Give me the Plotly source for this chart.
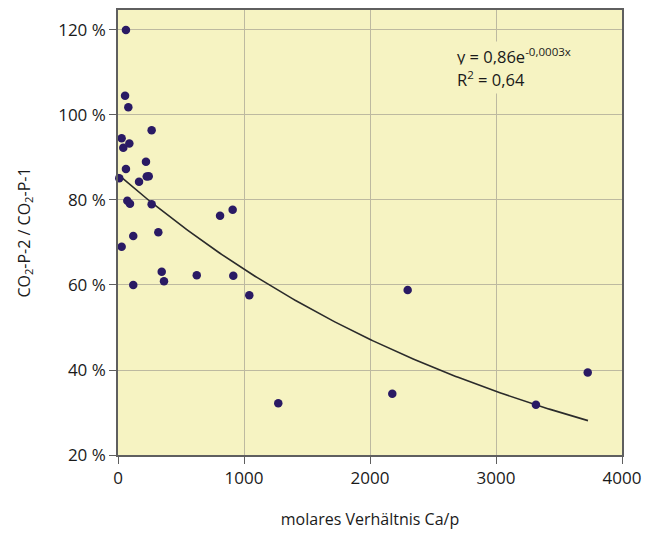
import numpy as np
import plotly.graph_objects as go

# molares Verhältnis Ca/p (x) and CO2-P-2 / CO2-P-1 in % (y)
ca_p = [63, 56, 82, 267, 29, 42, 90, 222, 63, 10, 167, 228, 244,
        74, 95, 267, 121, 320, 29, 347, 365, 625, 915, 121, 810, 910,
        1042, 2299, 1272, 2177, 3317, 3728]
ratio = [120.0, 104.5, 101.8, 96.4, 94.5, 92.3, 93.3, 89.0, 87.3, 85.1, 84.3, 85.5, 85.6,
         79.8, 79.1, 79.0, 71.5, 72.4, 69.0, 63.1, 60.9, 62.3, 62.2, 60.0, 76.3, 77.7,
         57.6, 58.8, 32.2, 34.4, 31.8, 39.4]

# exponential fit y = a * exp(b x)
fit_a = 0.86
fit_b = -0.0003
fit_x_end = 3730

x_ticks = [0, 1000, 2000, 3000, 4000]
y_ticks = [20, 40, 60, 80, 100, 120]
y_tick_text = ["20 %", "40 %", "60 %", "80 %", "100 %", "120 %"]

font_family = "Open Sans, Noto Sans, DejaVu Sans, sans-serif"
bg = "#f6f3c2"
grid = "#bdb9a0"
frame = "#5f5f5f"

fx = np.linspace(0, fit_x_end, 200)
fy = fit_a * np.exp(fit_b * fx) * 100

fig = go.Figure()
fig.add_trace(go.Scatter(x=fx, y=fy, mode="lines",
                         line=dict(color="#2b2b2b", width=1.6),
                         hoverinfo="skip", showlegend=False))
fig.add_trace(go.Scatter(x=ca_p, y=ratio, mode="markers",
                         marker=dict(color="#2a1a64", size=8.5, line=dict(width=0)),
                         cliponaxis=False, showlegend=False))

# page body has an 8px default margin, so the figure is sized 8px smaller
fig.update_layout(
    width=644, height=528,
    margin=dict(l=110, r=30, t=2, b=81),
    paper_bgcolor="white", plot_bgcolor=bg,
    font=dict(family=font_family, size=16, color="#1a1a1a"),
    xaxis=dict(range=[0, 4000], tickvals=x_ticks, showgrid=True, gridcolor=grid,
               gridwidth=1.3, zeroline=False, showline=True, mirror=True,
               linecolor=frame, linewidth=1.6, ticks="outside", ticklen=7,
               tickcolor=frame, tickwidth=1.3, tickfont=dict(size=17), automargin=False,
               title=dict(text="molares Verhältnis Ca/p", font=dict(size=16), standoff=26)),
    yaxis=dict(range=[20, 124.7], tickvals=y_ticks, ticktext=y_tick_text,
               showgrid=True, gridcolor=grid, gridwidth=1.3, zeroline=False,
               showline=True, mirror=True, linecolor=frame, linewidth=1.6,
               ticks="outside", ticklen=7, tickcolor=frame, tickwidth=1.3,
               tickfont=dict(size=17), automargin=False,
               title=dict(text="CO<sub>2</sub>-P-2 / CO<sub>2</sub>-P-1",
                          font=dict(size=16), standoff=24)),
)

fig.add_annotation(xref="paper", yref="paper", x=0.666, y=0.930,
                   xanchor="left", yanchor="top", align="left", showarrow=False,
                   text="y = 0,86e<sup>-0,0003x</sup>",
                   font=dict(size=16.5, color="#1a1a1a"), bgcolor=bg, borderpad=2)
fig.add_annotation(xref="paper", yref="paper", x=0.666, y=0.878,
                   xanchor="left", yanchor="top", align="left", showarrow=False,
                   text="R<sup>2</sup> = 0,64",
                   font=dict(size=16.5, color="#1a1a1a"), bgcolor=bg, borderpad=2)

fig.write_html("out.html")
